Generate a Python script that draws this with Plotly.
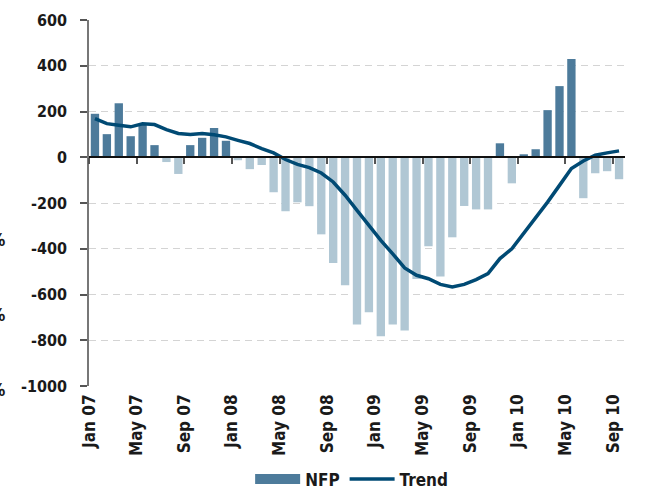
import plotly.graph_objects as go

months = ["Jan 07","Feb 07","Mar 07","Apr 07","May 07","Jun 07","Jul 07","Aug 07","Sep 07","Oct 07","Nov 07","Dec 07",
          "Jan 08","Feb 08","Mar 08","Apr 08","May 08","Jun 08","Jul 08","Aug 08","Sep 08","Oct 08","Nov 08","Dec 08",
          "Jan 09","Feb 09","Mar 09","Apr 09","May 09","Jun 09","Jul 09","Aug 09","Sep 09","Oct 09","Nov 09","Dec 09",
          "Jan 10","Feb 10","Mar 10","Apr 10","May 10","Jun 10","Jul 10","Aug 10","Sep 10"]

nfp = [190, 101, 236, 92, 143, 53, -21, -73, 53, 85, 128, 72,
       -13, -52, -34, -153, -236, -197, -214, -337, -462, -560, -731, -678,
       -783, -731, -757, -532, -389, -521, -350, -213, -228, -228, 61, -114,
       13, 35, 206, 311, 429, -179, -70, -61, -96]

trend = [169, 147, 140, 133, 146, 143, 121, 104, 99, 104, 98, 89,
         74, 60, 38, 19, -10, -31, -45, -69, -108, -166, -232, -298,
         -363, -422, -484, -516, -531, -556, -567, -556, -535, -509, -443, -400,
         -334, -268, -196, -123, -49, -16, 9, 19, 28]

tick_labels = ["Jan 07","May 07","Sep 07","Jan 08","May 08","Sep 08","Jan 09","May 09","Sep 09","Jan 10","May 10","Sep 10"]
y_ticks = [600, 400, 200, 0, -200, -400, -600, -800, -1000]
y_tick_text = ["600", "400", "200", "0", "-200", "-400", "-600", "-800", "-1000"]

POS = "#4d7b9b"
NEG = "#b0c7d4"
LINE = "#004a74"
FONT = "DejaVu Sans Condensed"
TXT = "#1a1a1a"

x = list(range(len(months)))
tickvals = [months.index(t) - 0.5 for t in tick_labels]
colors = [POS if v >= 0 else NEG for v in nfp]

fig = go.Figure()
fig.add_trace(go.Bar(x=x, y=nfp, marker=dict(color=colors, line=dict(width=0)), width=0.7,
                     name="NFP", showlegend=False, hovertext=months))
fig.add_trace(go.Scatter(x=[None], y=[None], mode="lines", name="NFP",
                         line=dict(color=POS, width=10), showlegend=True))
fig.add_trace(go.Scatter(x=x, y=trend, mode="lines", name="Trend",
                         line=dict(color=LINE, width=3.5), hovertext=months))
fig.add_trace(go.Scatter(x=x, y=[None]*len(x), xaxis="x2", mode="lines", showlegend=False,
                         hoverinfo="skip"))

for py in [0.399, 0.194, -0.011]:
    fig.add_annotation(x=-0.153, y=py, xref="paper", yref="paper", text="%", showarrow=False,
                       xanchor="right", yanchor="middle",
                       font=dict(family=FONT, size=17, color=TXT, weight="bold"))

fig.update_layout(
    width=660, height=496,
    margin=dict(l=89, r=35, t=20, b=110, autoexpand=False),
    paper_bgcolor="white", plot_bgcolor="white",
    font=dict(family=FONT, size=17, color=TXT, weight="bold"),
    legend=dict(orientation="h", x=0.49, xanchor="center", y=-0.255, yanchor="middle",
                font=dict(family=FONT, size=17, color=TXT, weight="bold"), itemwidth=45,
                traceorder="normal", tracegroupgap=0),
    xaxis=dict(range=[-0.5, len(months) - 0.5], tickvals=tickvals, ticktext=tick_labels,
               tickangle=-90, showgrid=False, zeroline=False, showline=False, ticks="",
               automargin=False, ticklabelstandoff=4,
               tickfont=dict(family=FONT, size=17, color=TXT, weight="bold")),
    xaxis2=dict(overlaying="x", matches="x", anchor="free", position=0.625, side="bottom",
                showline=True, linecolor="#111", linewidth=1.5, ticks="outside", ticklen=6,
                tickwidth=1.5, tickcolor="#555", tickvals=tickvals, showticklabels=False,
                showgrid=False, zeroline=False, automargin=False),
    yaxis=dict(range=[-1000, 600], tickvals=y_ticks, ticktext=y_tick_text,
               showgrid=True, gridcolor="#d4d4d4", gridwidth=1.3, griddash="7px,5px",
               zeroline=False, showline=True, linecolor="#777", linewidth=1.5,
               ticks="outside", ticklen=7, tickwidth=1.5, tickcolor="#555",
               automargin=False, ticklabelstandoff=10,
               tickfont=dict(family=FONT, size=16, color=TXT, weight="bold")),
)

fig.write_html("out.html", config={"displayModeBar": False},
               post_script="document.body.style.margin='0';")
